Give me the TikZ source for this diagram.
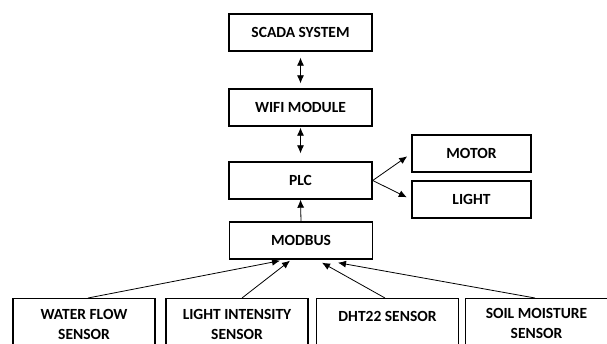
\documentclass[tikz,border=0pt]{standalone}
\usepackage{fontspec}
\setmainfont{Carlito}
\usetikzlibrary{arrows.meta}
\begin{document}
\begin{tikzpicture}[x=1pt,y=-1pt,
  box/.style={draw,line width=1.4pt,minimum width=143pt,minimum height=37pt,inner sep=0pt,font=\bfseries\fontsize{15.5}{21}\selectfont},
  sbox/.style={draw,line width=1.4pt,minimum width=142pt,minimum height=70pt,anchor=north,inner sep=0pt},
  lbl/.style={align=center,inner sep=0pt,font=\bfseries\fontsize{15.5}{20}\selectfont},
  arr/.style={line width=0.8pt,-{Latex[length=8pt,width=7pt]}},
  darr/.style={line width=0.8pt,{Latex[length=8pt,width=7pt]}-{Latex[length=8pt,width=7pt]}}]
\useasboundingbox (0,0) rectangle (607,343);
\clip (0,0) rectangle (607,343);
\node[box] (scada) at (300.5,32.5) {SCADA SYSTEM};
\node[box] (wifi) at (300.5,107.5) {WIFI MODULE};
\node[box] (plc) at (300.5,180.5) {PLC};
\node[box] (mb) at (301,240.5) {MODBUS};
\node[box,minimum width=119pt] (motor) at (471.5,153.5) {MOTOR};
\node[box,minimum width=119pt] (light) at (471.5,199.5) {LIGHT};
\node[sbox] (wf) at (84,298) {};
\node[sbox] (li) at (237,298) {};
\node[sbox] (dht) at (387.5,298) {};
\node[sbox] (soil) at (536.5,298) {};
\node[lbl] (wft) at (84,324) {WATER FLOW\\SENSOR};
\node[lbl] (lit) at (237,324) {LIGHT INTENSITY\\SENSOR};
\node[lbl] (dhtt) at (387.5,316.5) {DHT22 SENSOR};
\node[lbl] (soilt) at (536.5,323.5) {SOIL MOISTURE\\SENSOR};
\draw[darr,shorten <=6pt,shorten >=5pt] (scada.south) -- (wifi.north);
\draw[darr,shorten <=1pt,shorten >=8pt] (wifi.south) -- (plc.north);
\draw[arr] (mb.north) -- (plc.south);
\draw[arr,shorten >=5pt] (plc.east) -- (motor.west);
\draw[arr,shorten >=5pt] (plc.east) -- (light.west);
\draw[arr] ([xshift=4pt]wf.north) -- ([xshift=-21pt,yshift=-1pt]mb.south);
\draw[arr] ([xshift=5pt]li.north) -- ([xshift=-11pt,yshift=-1pt]mb.south);
\draw[arr] ([xshift=-2.5pt]dht.north) -- ([xshift=21pt,yshift=-3pt]mb.south);
\draw[arr] ([xshift=-1.5pt]soil.north) -- ([xshift=37pt,yshift=-3pt]mb.south);
\end{tikzpicture}
\end{document}
